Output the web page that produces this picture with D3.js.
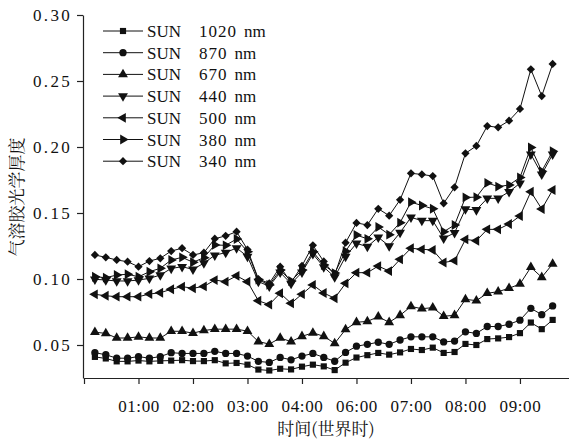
<!DOCTYPE html>
<html><head><meta charset="utf-8">
<script src="https://cdn.jsdelivr.net/npm/d3@7"></script>
<style>
html,body{margin:0;padding:0;background:#fff;}
svg{display:block;}
</style>
</head><body>
<svg id="c" width="569" height="439"></svg>
<script>
// hours (position on the time axis)
const times = [0.2,0.4,0.6,0.8,1.0,1.2,1.4,1.6,1.8,2.0,2.2,2.4,2.6,2.8,3.0,3.2,3.4,3.6,3.8,4.0,4.2,4.4,4.6,4.8,5.0,5.2,5.4,5.6,5.8,6.0,6.2,6.4,6.6,6.8,7.0,7.2,7.4,7.6,7.8,8.0,8.2,8.4,8.6];
const tickValues = [0,1,2,3,4,5,6,7,8];
const tickLabels = ["","01:00","02:00","03:00","04:00","06:00","07:00","08:00","09:00"];
const yTicks = [0.05,0.10,0.15,0.20,0.25,0.30];

const sun1020 = [0.041,0.0398,0.0376,0.0376,0.0382,0.0376,0.038,0.0382,0.0385,0.0378,0.0378,0.0385,0.0361,0.0364,0.0351,0.0314,0.0307,0.032,0.0315,0.0336,0.0351,0.0338,0.031,0.0366,0.0405,0.0423,0.044,0.0427,0.0444,0.047,0.0462,0.048,0.044,0.0447,0.0508,0.05,0.0545,0.055,0.056,0.059,0.067,0.062,0.069];
const sun870 = [0.0442,0.0426,0.04,0.04,0.0412,0.04,0.0412,0.0442,0.0436,0.0436,0.0436,0.0452,0.0436,0.0436,0.0416,0.0376,0.0368,0.0406,0.0388,0.0416,0.0436,0.0406,0.0377,0.0444,0.0491,0.0505,0.0521,0.0505,0.0538,0.0562,0.0562,0.0562,0.0523,0.053,0.06,0.0588,0.064,0.064,0.0657,0.0688,0.0778,0.073,0.0796];
const sun670 = [0.0597,0.0588,0.0553,0.0553,0.0562,0.0553,0.0553,0.0604,0.0604,0.059,0.061,0.062,0.062,0.062,0.0605,0.0526,0.0507,0.0553,0.0526,0.0566,0.0592,0.0566,0.0512,0.0618,0.0672,0.0679,0.0714,0.0672,0.0725,0.0792,0.0775,0.0783,0.0718,0.0725,0.0846,0.0836,0.0892,0.0904,0.093,0.0962,0.1089,0.1013,0.1114];
const sun440 = [0.0998,0.0992,0.0985,0.0985,0.0992,0.1005,0.103,0.108,0.1093,0.1073,0.112,0.118,0.12,0.1235,0.117,0.098,0.0945,0.105,0.0965,0.105,0.119,0.109,0.1015,0.117,0.127,0.1245,0.1316,0.125,0.1351,0.1467,0.1442,0.1442,0.1308,0.135,0.153,0.1523,0.1611,0.1611,0.1661,0.1725,0.1945,0.1793,0.1945];
const sun500 = [0.0884,0.0873,0.0866,0.0866,0.0866,0.0886,0.0896,0.0922,0.0942,0.093,0.0944,0.0992,0.098,0.1024,0.098,0.0835,0.0806,0.0892,0.0816,0.0885,0.0955,0.0894,0.0854,0.0967,0.1048,0.1048,0.1098,0.106,0.1149,0.1233,0.1225,0.122,0.1125,0.1139,0.13,0.129,0.1376,0.1376,0.1417,0.1477,0.1661,0.153,0.1674];
const sun380 = [0.1017,0.101,0.103,0.1036,0.1017,0.1055,0.1081,0.1144,0.1164,0.1127,0.1161,0.1258,0.1255,0.1303,0.1207,0.0995,0.0955,0.1068,0.0985,0.1068,0.1207,0.1106,0.1045,0.121,0.1333,0.1304,0.1394,0.1336,0.1427,0.1582,0.1557,0.1532,0.1358,0.1409,0.1618,0.162,0.1728,0.17,0.1712,0.1769,0.1997,0.1817,0.1968];
const sun340 = [0.1182,0.1164,0.1144,0.1131,0.1093,0.1136,0.1157,0.1212,0.1233,0.1182,0.1199,0.1305,0.1327,0.1358,0.1223,0.1,0.0967,0.1093,0.0973,0.11,0.1255,0.1133,0.103,0.1275,0.1425,0.1409,0.1532,0.148,0.16,0.1801,0.1792,0.178,0.1573,0.1695,0.1952,0.2008,0.2159,0.2149,0.2199,0.2288,0.2589,0.2386,0.2629];

const seriesNames = ["SUN 1020 nm","SUN 870 nm","SUN 670 nm","SUN 440 nm","SUN 500 nm","SUN 380 nm","SUN 340 nm"];
const seriesValues = [sun1020,sun870,sun670,sun440,sun500,sun380,sun340];
const markerKinds = ["square","circle","up","down","left","right","diamond"];

const SERIF = '"Liberation Serif", serif';
const CJK = '"Noto Serif CJK SC", "Noto Sans CJK SC", serif';

const svg = d3.select("#c");
const x = d3.scaleLinear().domain([0, 8.9]).range([84, 569]);
const y = d3.scaleLinear().domain([0.025, 0.30]).range([378, 15]);

// axes
const yAxis = d3.axisLeft(y).tickValues(yTicks).tickFormat(d3.format(".2f")).tickSize(6).tickSizeOuter(0).tickPadding(5);
const gy = svg.append("g").attr("transform","translate(83,0)").call(yAxis);
gy.selectAll("text").style("font-family",SERIF).style("font-size","17px").style("letter-spacing","2.3px").attr("fill","#111");
gy.selectAll("line,path").attr("stroke","#222").attr("stroke-width",1.2);

const xAxis = d3.axisBottom(x).tickValues(tickValues).tickFormat((d,i)=>tickLabels[i]).tickSize(6).tickSizeOuter(0).tickPadding(16);
const gx = svg.append("g").attr("transform","translate(0,378)").call(xAxis);
gx.selectAll("text").style("font-family",SERIF).style("font-size","17px").style("letter-spacing","0.6px").attr("fill","#111");
gx.selectAll("line,path").attr("stroke","#222").attr("stroke-width",1.2);

// axis titles
svg.append("text").attr("x",326).attr("y",435).attr("text-anchor","middle")
  .style("font-family",CJK).style("font-size","17px").attr("fill","#111").text("时间(世界时)");
svg.append("text").attr("transform","translate(23,197) rotate(-90)").attr("text-anchor","middle")
  .style("font-family",CJK).style("font-size","17px").attr("fill","#111").text("气溶胶光学厚度");

function marker(sel, kind){
  const tri = d3.symbol().type(d3.symbolTriangle).size(42)();
  let p, rot = 0;
  if(kind==="square") p = d3.symbol().type(d3.symbolSquare).size(38)();
  else if(kind==="circle") p = d3.symbol().type(d3.symbolCircle).size(42)();
  else if(kind==="diamond"){ p = d3.symbol().type(d3.symbolSquare).size(34)(); rot = 45; }
  else { p = tri; rot = {up:0, down:180, left:-90, right:90}[kind]; }
  sel.append("path").attr("d",p).attr("transform",d=>`translate(${d[0]},${d[1]}) rotate(${rot})`).attr("fill","#111");
}

const line = d3.line().x((d,i)=>x(times[i])).y(d=>y(d));
seriesValues.forEach((vals,si)=>{
  const g = svg.append("g");
  g.append("path").attr("d",line(vals)).attr("fill","none").attr("stroke","#111").attr("stroke-width",1);
  const pts = vals.map((v,i)=>[x(times[i]), y(v)]);
  const sel = g.selectAll("g.m").data(pts).enter().append("g").attr("class","m");
  marker(sel, markerKinds[si]);
});

// legend
const legY0 = 31, legDy = 21.7;
seriesNames.forEach((name,i)=>{
  const yy = legY0 + i*legDy;
  const g = svg.append("g");
  g.append("line").attr("x1",103).attr("x2",143).attr("y1",yy).attr("y2",yy).attr("stroke","#111").attr("stroke-width",1);
  const s = g.selectAll("g.m").data([[123,yy]]).enter().append("g").attr("class","m");
  marker(s, markerKinds[i]);
  const parts = name.split(" ");
  const t = g.append("text").attr("y",yy+6).style("font-family",SERIF).style("font-size","17px").attr("fill","#111");
  t.append("tspan").attr("x",147).text(parts[0]);
  t.append("tspan").attr("x",199).style("letter-spacing","1px").text(parts[1]);
  t.append("tspan").attr("dx",7).text(parts[2]);
});
</script>
</body></html>
